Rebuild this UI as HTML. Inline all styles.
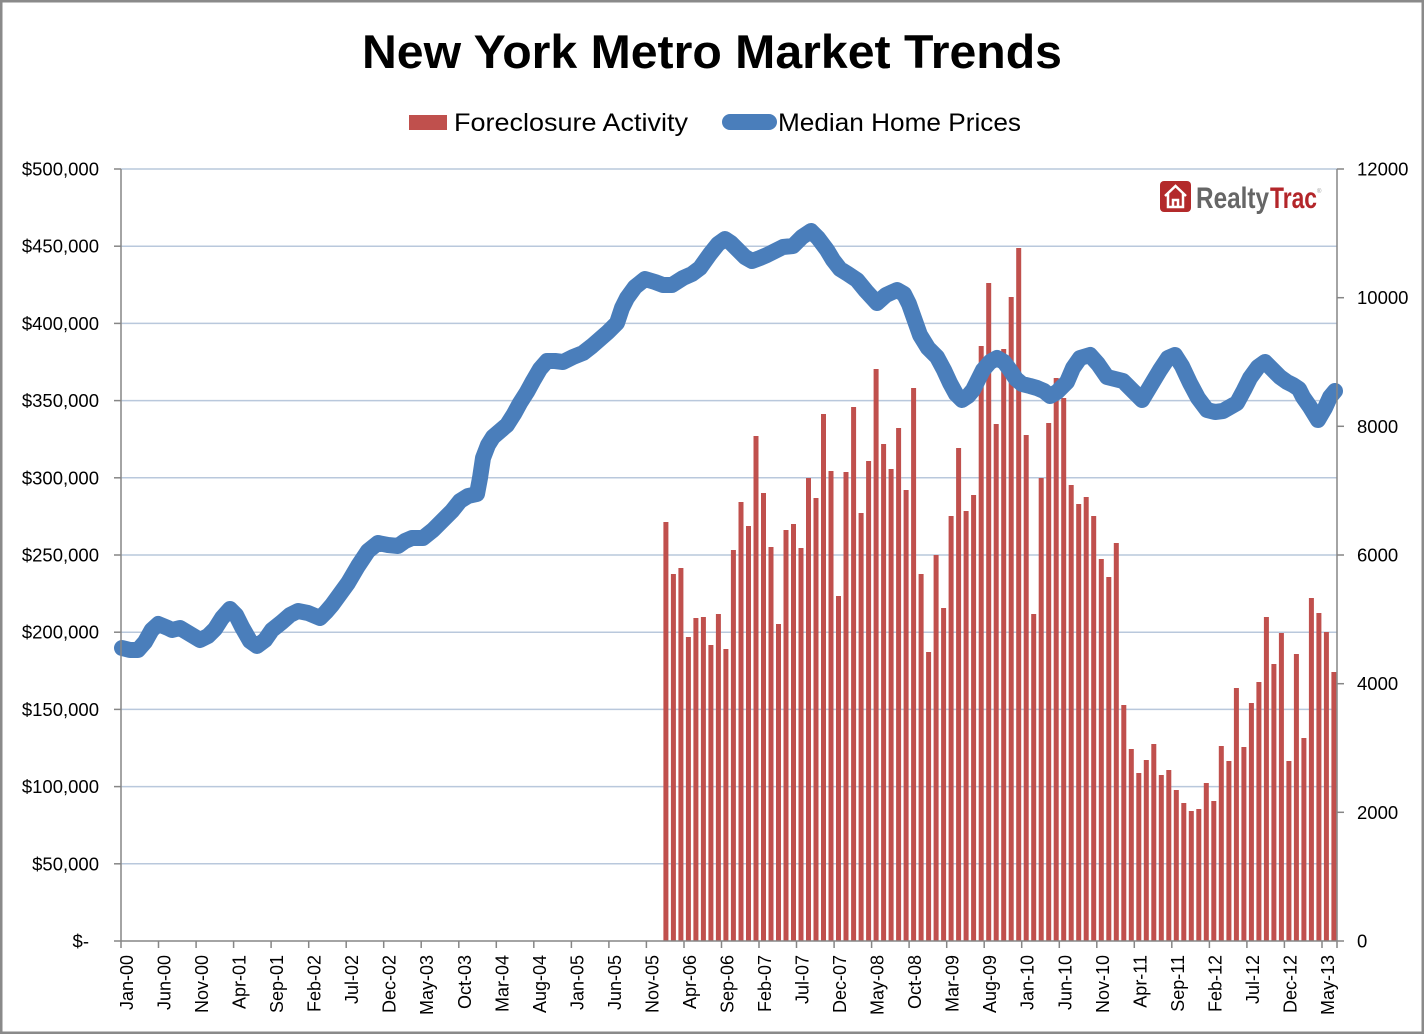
<!DOCTYPE html>
<html>
<head>
<meta charset="utf-8">
<style>
  html,body{margin:0;padding:0;background:#fff;}
  svg{display:block;}
  text{font-family:"Liberation Sans", Arial, sans-serif;}
</style>
</head>
<body>
<svg width="1424" height="1034" viewBox="0 0 1424 1034" xmlns="http://www.w3.org/2000/svg">
  <rect x="0" y="0" width="1424" height="1034" fill="#ffffff"/>
  <rect x="1.25" y="1.25" width="1421.5" height="1031.5" fill="none" stroke="#8a8a8a" stroke-width="2.5"/>

  <!-- Title -->
  <text x="712" y="68" text-anchor="middle" font-size="47" font-weight="bold" fill="#000" textLength="700" lengthAdjust="spacingAndGlyphs">New York Metro Market Trends</text>

  <!-- Legend -->
  <rect x="409" y="115" width="38" height="15" fill="#c0504d"/>
  <text x="454" y="131" font-size="25" fill="#000" textLength="234" lengthAdjust="spacingAndGlyphs">Foreclosure Activity</text>
  <line x1="730" y1="122" x2="769" y2="122" stroke="#4a7ebb" stroke-width="16" stroke-linecap="round"/>
  <text x="778" y="131" font-size="25" fill="#000" textLength="243" lengthAdjust="spacingAndGlyphs">Median Home Prices</text>

  <!-- Gridlines -->
  <g stroke="#b9c8dc" stroke-width="1.5">
    <line x1="121" y1="169" x2="1337" y2="169"/>
    <line x1="121" y1="246.2" x2="1337" y2="246.2"/>
    <line x1="121" y1="323.4" x2="1337" y2="323.4"/>
    <line x1="121" y1="400.6" x2="1337" y2="400.6"/>
    <line x1="121" y1="477.8" x2="1337" y2="477.8"/>
    <line x1="121" y1="555" x2="1337" y2="555"/>
    <line x1="121" y1="632.2" x2="1337" y2="632.2"/>
    <line x1="121" y1="709.4" x2="1337" y2="709.4"/>
    <line x1="121" y1="786.6" x2="1337" y2="786.6"/>
    <line x1="121" y1="863.8" x2="1337" y2="863.8"/>
  </g>

  <!-- Logo -->
  <rect x="1160" y="181" width="31" height="31" rx="4" fill="#b32a2b"/>
  <path d="M1165 196 L1175.5 186 L1186 196 M1168 193.5 L1168 207 L1183 207 L1183 193.5 M1173 207 L1173 200 L1178 200 L1178 207" fill="none" stroke="#ffffff" stroke-width="2.5"/>
  <text x="1196" y="208" font-size="30" font-weight="bold" fill="#666666" textLength="73" lengthAdjust="spacingAndGlyphs">Realty</text>
  <text x="1270" y="208" font-size="30" font-weight="bold" fill="#b3262a" textLength="47" lengthAdjust="spacingAndGlyphs">Trac</text>
  <text x="1317" y="193" font-size="6" fill="#999">®</text>

  <!-- Bars -->
  <g fill="#c0504d">
    <rect x="663.4" y="522" width="5" height="419"/>
    <rect x="670.9" y="574" width="5" height="367"/>
    <rect x="678.4" y="568" width="5" height="373"/>
    <rect x="685.9" y="637" width="5" height="304"/>
    <rect x="693.4" y="618" width="5" height="323"/>
    <rect x="700.9" y="617" width="5" height="324"/>
    <rect x="708.4" y="645" width="5" height="296"/>
    <rect x="715.9" y="614" width="5" height="327"/>
    <rect x="723.4" y="649" width="5" height="292"/>
    <rect x="730.9" y="550" width="5" height="391"/>
    <rect x="738.5" y="502" width="5" height="439"/>
    <rect x="746.0" y="526" width="5" height="415"/>
    <rect x="753.5" y="436" width="5" height="505"/>
    <rect x="761.0" y="493" width="5" height="448"/>
    <rect x="768.5" y="547" width="5" height="394"/>
    <rect x="776.0" y="624" width="5" height="317"/>
    <rect x="783.5" y="530" width="5" height="411"/>
    <rect x="791.0" y="524" width="5" height="417"/>
    <rect x="798.5" y="548" width="5" height="393"/>
    <rect x="806.0" y="478" width="5" height="463"/>
    <rect x="813.5" y="498" width="5" height="443"/>
    <rect x="821.0" y="414" width="5" height="527"/>
    <rect x="828.5" y="471" width="5" height="470"/>
    <rect x="836.0" y="596" width="5" height="345"/>
    <rect x="843.5" y="472" width="5" height="469"/>
    <rect x="851.1" y="407" width="5" height="534"/>
    <rect x="858.6" y="513" width="5" height="428"/>
    <rect x="866.1" y="461" width="5" height="480"/>
    <rect x="873.6" y="369" width="5" height="572"/>
    <rect x="881.1" y="444" width="5" height="497"/>
    <rect x="888.6" y="469" width="5" height="472"/>
    <rect x="896.1" y="428" width="5" height="513"/>
    <rect x="903.6" y="490" width="5" height="451"/>
    <rect x="911.1" y="388" width="5" height="553"/>
    <rect x="918.6" y="574" width="5" height="367"/>
    <rect x="926.1" y="652" width="5" height="289"/>
    <rect x="933.6" y="555" width="5" height="386"/>
    <rect x="941.1" y="608" width="5" height="333"/>
    <rect x="948.6" y="516" width="5" height="425"/>
    <rect x="956.1" y="448" width="5" height="493"/>
    <rect x="963.6" y="511" width="5" height="430"/>
    <rect x="971.1" y="495" width="5" height="446"/>
    <rect x="978.7" y="346" width="5" height="595"/>
    <rect x="986.2" y="283" width="5" height="658"/>
    <rect x="993.7" y="424" width="5" height="517"/>
    <rect x="1001.2" y="349" width="5" height="592"/>
    <rect x="1008.7" y="297" width="5" height="644"/>
    <rect x="1016.2" y="248" width="5" height="693"/>
    <rect x="1023.7" y="435" width="5" height="506"/>
    <rect x="1031.2" y="614" width="5" height="327"/>
    <rect x="1038.7" y="478" width="5" height="463"/>
    <rect x="1046.2" y="423" width="5" height="518"/>
    <rect x="1053.7" y="378" width="5" height="563"/>
    <rect x="1061.2" y="398" width="5" height="543"/>
    <rect x="1068.7" y="485" width="5" height="456"/>
    <rect x="1076.2" y="504" width="5" height="437"/>
    <rect x="1083.7" y="497" width="5" height="444"/>
    <rect x="1091.2" y="516" width="5" height="425"/>
    <rect x="1098.8" y="559" width="5" height="382"/>
    <rect x="1106.3" y="577" width="5" height="364"/>
    <rect x="1113.8" y="543" width="5" height="398"/>
    <rect x="1121.3" y="705" width="5" height="236"/>
    <rect x="1128.8" y="749" width="5" height="192"/>
    <rect x="1136.3" y="773" width="5" height="168"/>
    <rect x="1143.8" y="760" width="5" height="181"/>
    <rect x="1151.3" y="744" width="5" height="197"/>
    <rect x="1158.8" y="775" width="5" height="166"/>
    <rect x="1166.3" y="770" width="5" height="171"/>
    <rect x="1173.8" y="790" width="5" height="151"/>
    <rect x="1181.3" y="803" width="5" height="138"/>
    <rect x="1188.8" y="811" width="5" height="130"/>
    <rect x="1196.3" y="809" width="5" height="132"/>
    <rect x="1203.8" y="783" width="5" height="158"/>
    <rect x="1211.3" y="801" width="5" height="140"/>
    <rect x="1218.8" y="746" width="5" height="195"/>
    <rect x="1226.4" y="761" width="5" height="180"/>
    <rect x="1233.9" y="688" width="5" height="253"/>
    <rect x="1241.4" y="747" width="5" height="194"/>
    <rect x="1248.9" y="703" width="5" height="238"/>
    <rect x="1256.4" y="682" width="5" height="259"/>
    <rect x="1263.9" y="617" width="5" height="324"/>
    <rect x="1271.4" y="664" width="5" height="277"/>
    <rect x="1278.9" y="633" width="5" height="308"/>
    <rect x="1286.4" y="761" width="5" height="180"/>
    <rect x="1293.9" y="654" width="5" height="287"/>
    <rect x="1301.4" y="738" width="5" height="203"/>
    <rect x="1308.9" y="598" width="5" height="343"/>
    <rect x="1316.4" y="613" width="5" height="328"/>
    <rect x="1323.9" y="632" width="5" height="309"/>
    <rect x="1331.4" y="672" width="5" height="269"/>
  </g>

  <!-- Median home price line -->
  <polyline fill="none" stroke="#4a7ebb" stroke-width="16" stroke-linejoin="round" stroke-linecap="round"
    points="122,648 130,650 138,650 145,642 151.7,630 158.3,624 168,628 172,630 180,628 190,634 200,640 208,636 215,629 222,618 230,609 236,615 242,627 250,641 257,646 265,640 272,630 282,622 290,615 298,611 308,613 320,618 326,612 332,605 340,594 348,583 358,566 368,551 378,543 388,545 398,546 405,541 412,538 423,538 433,530 443,520 452,511 460,501 468,496 477,494 480,478 483,458 488,445 493,437 500,431 507,425 514,414 520,403 527,392 533,381 540,369 547,361 555,361 563,362 573,357 583,353 592,346 600,339 608,332 617,323 622,308 627,298 635,287 645,279 655,282 663,285 672,285 683,278 692,274 700,268 710,254 718,244 725,239 731,243 737,249 745,257 752,261 760,258 767,255 775,251 783,247 793,246 802,237 811,231 818,238 827,250 833,260 840,269 848,274 857,280 866,291 877,303 886,295 897,290 904,294 909,304 920,335 928,348 937,357 944,370 950,383 956,394 962,400 968,396 973,390 983,370 990,362 997,358 1004,362 1010,370 1016,379 1022,384 1030,386 1037,388 1044,391 1050,396 1057,392 1067,382 1073,368 1080,358 1090,355 1098,364 1107,377 1115,379 1123,381 1132,390 1142,400 1151,385 1160,370 1168,358 1175,355 1182,366 1190,383 1198,398 1207,410 1215,412 1223,411 1237,403 1244,390 1250,378 1258,367 1265,362 1272,369 1280,377 1287,382 1293,385 1299,389 1303,397 1310,407 1318,420 1325,408 1330,397 1335,391"/>

  <!-- Axes -->
  <g stroke="#868686" stroke-width="1.5">
    <line x1="121" y1="169" x2="121" y2="941"/>
    <line x1="1337" y1="169" x2="1337" y2="941"/>
    <line x1="114" y1="941" x2="1337" y2="941"/>
    <line x1="114" y1="169" x2="121" y2="169"/>
    <line x1="114" y1="246.2" x2="121" y2="246.2"/>
    <line x1="114" y1="323.4" x2="121" y2="323.4"/>
    <line x1="114" y1="400.6" x2="121" y2="400.6"/>
    <line x1="114" y1="477.8" x2="121" y2="477.8"/>
    <line x1="114" y1="555" x2="121" y2="555"/>
    <line x1="114" y1="632.2" x2="121" y2="632.2"/>
    <line x1="114" y1="709.4" x2="121" y2="709.4"/>
    <line x1="114" y1="786.6" x2="121" y2="786.6"/>
    <line x1="114" y1="863.8" x2="121" y2="863.8"/>
    <line x1="1337" y1="169" x2="1344" y2="169"/>
    <line x1="1337" y1="297.7" x2="1344" y2="297.7"/>
    <line x1="1337" y1="426.3" x2="1344" y2="426.3"/>
    <line x1="1337" y1="555" x2="1344" y2="555"/>
    <line x1="1337" y1="683.7" x2="1344" y2="683.7"/>
    <line x1="1337" y1="812.3" x2="1344" y2="812.3"/>
    <line x1="1337" y1="941" x2="1344" y2="941"/>
    <path d="M121 941v7 M158.5 941v7 M196.1 941v7 M233.6 941v7 M271.1 941v7 M308.7 941v7 M346.2 941v7 M383.7 941v7 M421.2 941v7 M458.8 941v7 M496.3 941v7 M533.8 941v7 M571.4 941v7 M608.9 941v7 M646.4 941v7 M684 941v7 M721.5 941v7 M759 941v7 M796.5 941v7 M834.1 941v7 M871.6 941v7 M909.1 941v7 M946.7 941v7 M984.2 941v7 M1021.7 941v7 M1059.3 941v7 M1096.8 941v7 M1134.3 941v7 M1171.8 941v7 M1209.4 941v7 M1246.9 941v7 M1284.4 941v7 M1322 941v7 M1337 941v7"/>
  </g>

  <!-- Left axis labels -->
  <g font-size="18.5" fill="#000" text-anchor="end">
    <text x="99" y="175.5">$500,000</text>
    <text x="99" y="252.7">$450,000</text>
    <text x="99" y="329.9">$400,000</text>
    <text x="99" y="407.1">$350,000</text>
    <text x="99" y="484.3">$300,000</text>
    <text x="99" y="561.5">$250,000</text>
    <text x="99" y="638.7">$200,000</text>
    <text x="99" y="715.9">$150,000</text>
    <text x="99" y="793.1">$100,000</text>
    <text x="99" y="870.3">$50,000</text>
    <text x="89" y="947.5">$-</text>
  </g>

  <!-- Right axis labels -->
  <g font-size="18.5" fill="#000" text-anchor="start">
    <text x="1357" y="175.5">12000</text>
    <text x="1357" y="304.2">10000</text>
    <text x="1357" y="432.8">8000</text>
    <text x="1357" y="561.5">6000</text>
    <text x="1357" y="690.2">4000</text>
    <text x="1357" y="818.8">2000</text>
    <text x="1357" y="947.5">0</text>
  </g>

  <!-- X axis labels (rotated) -->
  <g font-size="18" fill="#000" text-anchor="end">
    <text transform="translate(133,955) rotate(-90)">Jan-00</text>
    <text transform="translate(170.5,955) rotate(-90)">Jun-00</text>
    <text transform="translate(208.1,955) rotate(-90)">Nov-00</text>
    <text transform="translate(245.6,955) rotate(-90)">Apr-01</text>
    <text transform="translate(283.1,955) rotate(-90)">Sep-01</text>
    <text transform="translate(320.7,955) rotate(-90)">Feb-02</text>
    <text transform="translate(358.2,955) rotate(-90)">Jul-02</text>
    <text transform="translate(395.7,955) rotate(-90)">Dec-02</text>
    <text transform="translate(433.2,955) rotate(-90)">May-03</text>
    <text transform="translate(470.8,955) rotate(-90)">Oct-03</text>
    <text transform="translate(508.3,955) rotate(-90)">Mar-04</text>
    <text transform="translate(545.8,955) rotate(-90)">Aug-04</text>
    <text transform="translate(583.4,955) rotate(-90)">Jan-05</text>
    <text transform="translate(620.9,955) rotate(-90)">Jun-05</text>
    <text transform="translate(658.4,955) rotate(-90)">Nov-05</text>
    <text transform="translate(696,955) rotate(-90)">Apr-06</text>
    <text transform="translate(733.5,955) rotate(-90)">Sep-06</text>
    <text transform="translate(771,955) rotate(-90)">Feb-07</text>
    <text transform="translate(808.5,955) rotate(-90)">Jul-07</text>
    <text transform="translate(846.1,955) rotate(-90)">Dec-07</text>
    <text transform="translate(883.6,955) rotate(-90)">May-08</text>
    <text transform="translate(921.1,955) rotate(-90)">Oct-08</text>
    <text transform="translate(958.7,955) rotate(-90)">Mar-09</text>
    <text transform="translate(996.2,955) rotate(-90)">Aug-09</text>
    <text transform="translate(1033.7,955) rotate(-90)">Jan-10</text>
    <text transform="translate(1071.3,955) rotate(-90)">Jun-10</text>
    <text transform="translate(1108.8,955) rotate(-90)">Nov-10</text>
    <text transform="translate(1146.3,955) rotate(-90)">Apr-11</text>
    <text transform="translate(1183.8,955) rotate(-90)">Sep-11</text>
    <text transform="translate(1221.4,955) rotate(-90)">Feb-12</text>
    <text transform="translate(1258.9,955) rotate(-90)">Jul-12</text>
    <text transform="translate(1296.4,955) rotate(-90)">Dec-12</text>
    <text transform="translate(1334,955) rotate(-90)">May-13</text>
  </g>
</svg>
</body>
</html>
